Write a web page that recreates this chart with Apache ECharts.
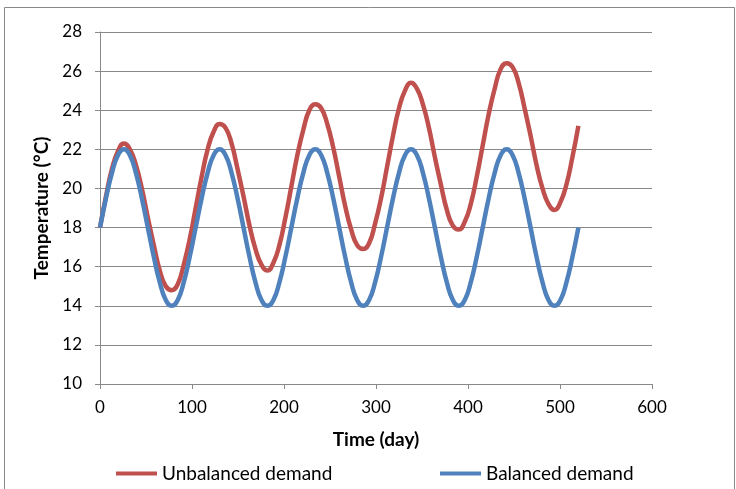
<!DOCTYPE html>
<html>
<head>
<meta charset="utf-8">
<script src="https://cdn.jsdelivr.net/npm/echarts@6/dist/echarts.min.js"></script>
<style>
  html, body { margin: 0; padding: 0; background: #fff; }
  #chart { width: 736px; height: 489px; }
</style>
</head>
<body>
<div id="chart"></div>
<script>
// time in days
var days = [
  0, 6.5, 13, 19.5, 26, 32.5, 39, 45.5, 52, 58.5, 65, 71.5, 78, 84.5, 91, 97.5,
  104, 110.5, 117, 123.5, 130, 136.5, 143, 149.5, 156, 162.5, 169, 175.5, 182, 188.5, 195, 201.5,
  208, 214.5, 221, 227.5, 234, 240.5, 247, 253.5, 260, 266.5, 273, 279.5, 286, 292.5, 299, 305.5,
  312, 318.5, 325, 331.5, 338, 344.5, 351, 357.5, 364, 370.5, 377, 383.5, 390, 396.5, 403, 409.5,
  416, 422.5, 429, 435.5, 442, 448.5, 455, 461.5, 468, 474.5, 481, 487.5, 494, 500.5, 507, 513.5,
  520
];

var unbalanced = [
  18.0, 19.6, 21.0, 21.9, 22.3, 22.0, 21.2, 20.0, 18.5, 17.1, 15.8, 15.0, 14.8, 15.1, 16.1, 17.4,
  19.0, 20.6, 22.0, 22.9, 23.3, 23.1, 22.3, 21.0, 19.6, 18.1, 16.9, 16.1, 15.8, 16.2, 17.1, 18.5,
  20.1, 21.7, 23.0, 24.0, 24.3, 24.1, 23.3, 22.1, 20.6, 19.1, 17.9, 17.1, 16.9, 17.2, 18.2, 19.5,
  21.1, 22.7, 24.1, 25.0, 25.4, 25.1, 24.3, 23.1, 21.6, 20.2, 18.9, 18.1, 17.9, 18.3, 19.2, 20.6,
  22.2, 23.8, 25.1, 26.1, 26.4, 26.2, 25.4, 24.1, 22.7, 21.2, 20.0, 19.2, 18.9, 19.3, 20.2, 21.6,
  23.2
];

var balanced = [
  18.0, 19.5, 20.8, 21.7, 22.0, 21.7, 20.8, 19.5, 18.0, 16.5, 15.2, 14.3, 14.0, 14.3, 15.2, 16.5,
  18.0, 19.5, 20.8, 21.7, 22.0, 21.7, 20.8, 19.5, 18.0, 16.5, 15.2, 14.3, 14.0, 14.3, 15.2, 16.5,
  18.0, 19.5, 20.8, 21.7, 22.0, 21.7, 20.8, 19.5, 18.0, 16.5, 15.2, 14.3, 14.0, 14.3, 15.2, 16.5,
  18.0, 19.5, 20.8, 21.7, 22.0, 21.7, 20.8, 19.5, 18.0, 16.5, 15.2, 14.3, 14.0, 14.3, 15.2, 16.5,
  18.0, 19.5, 20.8, 21.7, 22.0, 21.7, 20.8, 19.5, 18.0, 16.5, 15.2, 14.3, 14.0, 14.3, 15.2, 16.5,
  18.0
];

var seriesNames = ["Unbalanced demand", "Balanced demand"];
var colors = ["#C0504D", "#4F81BD"];

function pairs(ys) {
  return days.map(function (d, i) { return [d, ys[i]]; });
}

var font = "Lato, 'Open Sans', sans-serif";
var gray = "#898989";

var myChart = echarts.init(document.getElementById("chart"));
myChart.setOption({
  animation: false,
  backgroundColor: "#fff",
  graphic: [{
    type: "rect",
    shape: { x: 4.5, y: 7.5, width: 730, height: 500 },
    style: { fill: "none", stroke: gray, lineWidth: 1 },
    silent: true
  }],
  grid: { left: 100, right: 84, top: 32, bottom: 105 },
  legend: [
    {
      data: [seriesNames[0]], left: 116, top: 464, padding: 0,
      icon: "rect", itemWidth: 41, itemHeight: 4,
      textStyle: { fontFamily: font, fontSize: 19, color: "#000" }
    },
    {
      data: [seriesNames[1]], left: 440, top: 464, padding: 0,
      icon: "rect", itemWidth: 41, itemHeight: 4,
      textStyle: { fontFamily: font, fontSize: 19, color: "#000" }
    }
  ],
  xAxis: {
    type: "value", min: 0, max: 600, interval: 100,
    name: "Time (day)", nameLocation: "middle", nameGap: 46,
    nameTextStyle: { fontFamily: font, fontSize: 19, fontWeight: "bold", color: "#000" },
    axisLine: { show: true, lineStyle: { color: gray, width: 1 } },
    axisTick: { show: true, length: 5, lineStyle: { color: gray } },
    axisLabel: { fontFamily: font, fontSize: 17, color: "#000", margin: 15 },
    splitLine: { show: false }
  },
  yAxis: {
    type: "value", min: 10, max: 28, interval: 2,
    name: "Temperature (°C)", nameLocation: "middle", nameGap: 47,
    nameTextStyle: { fontFamily: font, fontSize: 19, fontWeight: "bold", color: "#000" },
    axisLine: { show: true, lineStyle: { color: gray, width: 1 } },
    axisTick: { show: true, length: 5, lineStyle: { color: gray } },
    axisLabel: { fontFamily: font, fontSize: 17, color: "#000", margin: 18 },
    splitLine: { show: true, lineStyle: { color: gray, width: 1 } }
  },
  series: [
    {
      name: seriesNames[0], type: "line", data: pairs(unbalanced),
      smooth: 0.5, showSymbol: false, color: colors[0],
      lineStyle: { width: 4.5, color: colors[0] }
    },
    {
      name: seriesNames[1], type: "line", data: pairs(balanced),
      smooth: 0.5, showSymbol: false, color: colors[1],
      lineStyle: { width: 4.5, color: colors[1] }
    }
  ]
});
</script>
</body>
</html>
